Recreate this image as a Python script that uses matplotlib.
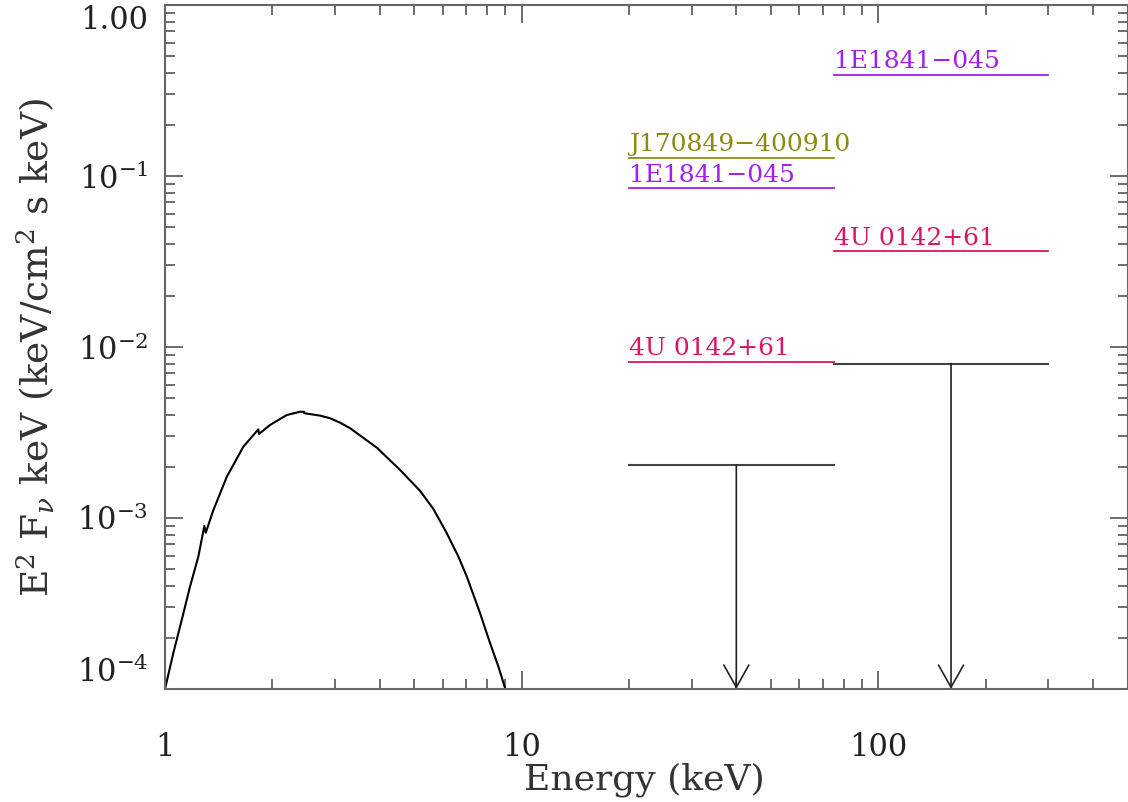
import matplotlib
matplotlib.use("Agg")
import matplotlib.pyplot as plt
from matplotlib.ticker import FixedLocator, FixedFormatter, LogLocator, NullFormatter

plt.rcParams["font.family"] = ["DejaVu Serif"]
plt.rcParams["mathtext.fontset"] = "dejavuserif"

# model spectrum (E^2 F_nu)
energy = [1.0, 1.055, 1.114, 1.175, 1.240, 1.289, 1.301, 1.366, 1.490, 1.658,
          1.827, 1.835, 1.970, 2.194, 2.391, 2.453, 2.457, 2.721, 2.903, 3.097,
          3.304, 3.925, 4.562, 5.192, 5.656, 6.17, 6.65, 7.02, 7.65, 8.16,
          8.61, 8.99]
flux = [1.0e-4, 1.62e-4, 2.53e-4, 3.96e-4, 5.94e-4, 8.98e-4, 8.20e-4, 1.11e-3,
        1.74e-3, 2.61e-3, 3.30e-3, 3.10e-3, 3.50e-3, 4.00e-3, 4.18e-3, 4.18e-3,
        4.10e-3, 3.97e-3, 3.83e-3, 3.61e-3, 3.35e-3, 2.58e-3, 1.91e-3, 1.44e-3,
        1.13e-3, 8.14e-4, 5.94e-4, 4.54e-4, 2.77e-4, 1.85e-4, 1.35e-4, 1.01e-4]

# source levels per band
src_names = ["J170849\u2212400910", "1E1841\u2212045", "4U 0142+61",
             "1E1841\u2212045", "4U 0142+61"]
src_lo = [20, 20, 20, 75, 75]
src_hi = [75, 75, 75, 300, 300]
src_flux = [0.128, 0.085, 0.0082, 0.39, 0.0364]
src_color = ["#8B8B14", "#A020F0", "#DC1466", "#A020F0", "#DC1466"]

# upper limits
ul_lo = [20, 75]
ul_hi = [75, 300]
ul_flux = [2.05e-3, 8.0e-3]
ul_x = [40, 160]

ytick_vals = [1e-4, 1e-3, 1e-2, 1e-1, 1.0]
ytick_labels = ["10$^{-4}$", "10$^{-3}$", "10$^{-2}$", "10$^{-1}$", "1.00"]
xtick_vals = [1, 10, 100]
xtick_labels = ["1", "10", "100"]

fig = plt.figure(figsize=(11.28, 8.02), dpi=100)
ax = fig.add_axes([165 / 1128, 1 - 689 / 802, 962.5 / 1128, 684 / 802])
ax.set_xscale("log")
ax.set_yscale("log")
ax.set_xlim(1, 500)
ax.set_ylim(1e-4, 1.0)

ax.plot(energy, flux, color="black", lw=1.5)

for name, lo, hi, f, c in zip(src_names, src_lo, src_hi, src_flux, src_color):
    ax.plot([lo, hi], [f, f], color=c, lw=1.3)
    ax.text(lo, f * 1.02, name, color=c, fontsize=18, ha="left", va="bottom")

for lo, hi, f, xa in zip(ul_lo, ul_hi, ul_flux, ul_x):
    ax.plot([lo, hi], [f, f], color="#444444", lw=1.5)
    ax.annotate("", xy=(xa, 1e-4), xytext=(xa, f),
                arrowprops=dict(arrowstyle="->,head_length=0.8,head_width=0.45",
                                color="#222222", lw=1.2, shrinkA=0, shrinkB=0,
                                mutation_scale=20))

for s in ax.spines.values():
    s.set_color("#666666")
    s.set_linewidth(1.5)

ax.yaxis.set_major_locator(FixedLocator(ytick_vals))
ax.yaxis.set_major_formatter(FixedFormatter(ytick_labels))
ax.yaxis.set_minor_locator(LogLocator(base=10, subs=range(2, 10)))
ax.yaxis.set_minor_formatter(NullFormatter())
ax.xaxis.set_major_locator(FixedLocator(xtick_vals))
ax.xaxis.set_major_formatter(FixedFormatter(xtick_labels))
ax.xaxis.set_minor_locator(LogLocator(base=10, subs=range(2, 10)))
ax.xaxis.set_minor_formatter(NullFormatter())

ax.tick_params(which="both", direction="in", top=True, right=True,
               color="#555555", width=1.2, labelcolor="#222222")
ax.tick_params(which="major", length=13, labelsize=22)
ax.tick_params(which="minor", length=7)
ax.tick_params(axis="x", which="major", pad=31)
ax.tick_params(axis="y", which="major", pad=12)

# keep the end labels inside the frame, as in the original
ylabels = ax.get_yticklabels()
ylabels[0].set_verticalalignment("bottom")
ylabels[-1].set_verticalalignment("top")

ax.set_xlabel("Energy (keV)", fontsize=26, color="#333333")
ax.xaxis.set_label_coords(0.498, -0.108)
ax.set_ylabel(r"E$^2$ F$_\nu$ keV (keV/cm$^2$ s keV)", fontsize=27,
              color="#333333", labelpad=14)

fig.savefig("out.png", dpi=100)
